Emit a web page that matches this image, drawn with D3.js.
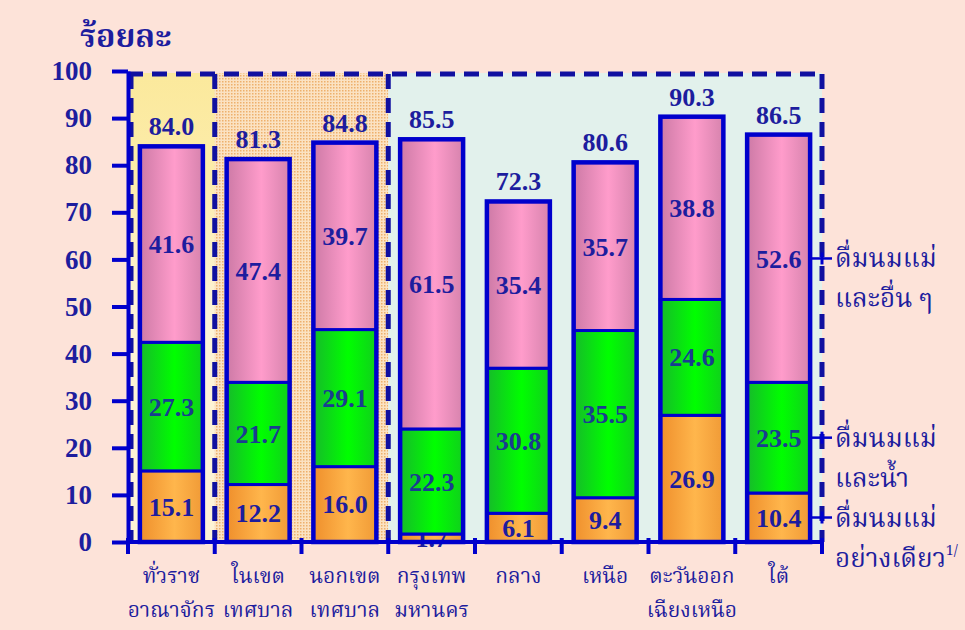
<!DOCTYPE html>
<html>
<head>
<meta charset="utf-8">
<script src="https://cdn.jsdelivr.net/npm/d3@7"></script>
<style>
  html, body { margin: 0; padding: 0; background: #fde3d9; }
  svg { display: block; }
  .num { font-family: "Liberation Serif", "Times New Roman", serif; font-weight: bold; fill: #1d1d9e; }
  .thai { font-family: "Noto Serif Thai", "Noto Sans Thai", "Norasi", "Loma", "Garuda", "Liberation Serif", serif; fill: #1d1d9e; }
</style>
</head>
<body>
<svg id="chart" width="965" height="630"></svg>
<script>
// breastfeeding by area, per cent
const categories = ['ทั่วราชอาณาจักร', 'ในเขตเทศบาล', 'นอกเขตเทศบาล', 'กรุงเทพมหานคร',
  'กลาง', 'เหนือ', 'ตะวันออกเฉียงเหนือ', 'ใต้'];
const catLabels = [['ทั่วราช', 'อาณาจักร'], ['ในเขต', 'เทศบาล'], ['นอกเขต', 'เทศบาล'],
  ['กรุงเทพ', 'มหานคร'], ['กลาง'], ['เหนือ'], ['ตะวันออก', 'เฉียงเหนือ'], ['ใต้']];
const exclusiveBF = [15.1, 12.2, 16.0, 1.7, 6.1, 9.4, 26.9, 10.4];
const waterBF = [27.3, 21.7, 29.1, 22.3, 30.8, 35.5, 24.6, 23.5];
const otherBF = [41.6, 47.4, 39.7, 61.5, 35.4, 35.7, 38.8, 52.6];
const totals = [84.0, 81.3, 84.8, 85.5, 72.3, 80.6, 90.3, 86.5];
const yTicks = [0, 10, 20, 30, 40, 50, 60, 70, 80, 90, 100];
const seriesKeys = ['exclusive', 'water', 'other'];
const seriesNames = [['ดื่มนมแม่', 'อย่างเดียว'], ['ดื่มนมแม่', 'และน้ำ'], ['ดื่มนมแม่', 'และอื่น ๆ']];

const svg = d3.select('#chart');
const blue = '#0000cc';
const dark = '#1010a0';

svg.append('rect').attr('width', 965).attr('height', 630).attr('fill', '#fde3d9');

const x = d3.scaleBand()
  .domain(categories)
  .range([128, 822])
  .paddingInner(0.274)
  .paddingOuter(0.137);
const y = d3.scaleLinear().domain([0, 100]).range([542, 71]);
const step = x.step();
const cellLeft = i => x.range()[0] + i * step;

const rows = categories.map((c, i) => ({
  cat: c, exclusive: exclusiveBF[i], water: waterBF[i], other: otherBF[i], total: totals[i]
}));
const stacked = d3.stack().keys(seriesKeys)(rows);

const defs = svg.append('defs');

// bar gradients (cylinder look)
const grads = {
  exclusive: ['#ef8f2c', '#ffb64c', '#f09a36'],
  water: ['#16bb2a', '#00ff00', '#10d01c'],
  other: ['#cd7aa6', '#ff9ccb', '#d683ad']
};
Object.entries(grads).forEach(([k, c]) => {
  const g = defs.append('linearGradient').attr('id', 'g-' + k);
  g.append('stop').attr('offset', '0%').attr('stop-color', c[0]);
  g.append('stop').attr('offset', '55%').attr('stop-color', c[1]);
  g.append('stop').attr('offset', '100%').attr('stop-color', c[2]);
});

const yg = defs.append('linearGradient').attr('id', 'g-yellow')
  .attr('x1', 0).attr('x2', 0).attr('y1', 0).attr('y2', 1);
yg.append('stop').attr('offset', '0%').attr('stop-color', '#fbe99c');
yg.append('stop').attr('offset', '22%').attr('stop-color', '#fcecaa');
yg.append('stop').attr('offset', '50%').attr('stop-color', '#fdf3d6');
yg.append('stop').attr('offset', '100%').attr('stop-color', '#fdf3d6');

const pat = defs.append('pattern').attr('id', 'dots')
  .attr('width', 3).attr('height', 3).attr('patternUnits', 'userSpaceOnUse');
pat.append('rect').attr('width', 3).attr('height', 3).attr('fill', '#fbe2c2');
pat.append('rect').attr('width', 1.5).attr('height', 1.5).attr('fill', '#eeb06c');

// background panels
const groups = [
  { from: 0, to: 1, fill: 'url(#g-yellow)' },
  { from: 1, to: 3, fill: 'url(#dots)' },
  { from: 3, to: 8, fill: '#e2f1ec' }
];
svg.append('g').selectAll('rect')
  .data(groups)
  .join('rect')
  .attr('x', d => cellLeft(d.from))
  .attr('y', y(100) + 2)
  .attr('width', d => (d.to - d.from) * step)
  .attr('height', y(0) - y(100) - 2)
  .attr('fill', d => d.fill);

// dashed borders
const dash = svg.append('g')
  .attr('fill', 'none')
  .attr('stroke', dark)
  .attr('stroke-width', 5)
  .attr('stroke-dasharray', '15,9');
dash.append('line')
  .attr('x1', 128).attr('x2', 824)
  .attr('y1', y(100) + 3).attr('y2', y(100) + 3);
dash.selectAll('line.v')
  .data([1, 3, 8])
  .join('line')
  .attr('class', 'v')
  .attr('x1', d => cellLeft(d))
  .attr('x2', d => cellLeft(d))
  .attr('y1', y(100) + 3)
  .attr('y2', y(0));
dash.append('line')
  .attr('x1', 131).attr('x2', 131)
  .attr('y1', y(100) + 3).attr('y2', y(0));

// bars
const barG = svg.append('g');
const series = barG.selectAll('g.s')
  .data(stacked)
  .join('g')
  .attr('class', 's')
  .attr('fill', d => `url(#g-${d.key})`);
series.selectAll('rect')
  .data(d => d)
  .join('rect')
  .attr('x', d => x(d.data.cat))
  .attr('y', d => y(d[1]))
  .attr('width', x.bandwidth())
  .attr('height', d => y(d[0]) - y(d[1]))
  .attr('stroke', blue)
  .attr('stroke-width', 3);

barG.selectAll('rect.outline')
  .data(rows)
  .join('rect')
  .attr('class', 'outline')
  .attr('x', d => x(d.cat))
  .attr('y', d => y(d.total))
  .attr('width', x.bandwidth())
  .attr('height', d => y(0) - y(d.total))
  .attr('fill', 'none')
  .attr('stroke', blue)
  .attr('stroke-width', 4.5);

// segment value labels
series.selectAll('text')
  .data(d => d.map(v => ({ v, key: d.key })))
  .join('text')
  .attr('class', 'num')
  .attr('x', d => x(d.v.data.cat) + x.bandwidth() / 2)
  .attr('y', d => y((d.v[0] + d.v[1]) / 2))
  .attr('dy', '0.35em')
  .attr('text-anchor', 'middle')
  .attr('font-size', 26)
  .style('fill', d => d.key === 'water' ? '#1a3c90' : '#1d1d9e')
  .text(d => d.v.data[d.key].toFixed(1));

// total labels
svg.append('g').selectAll('text')
  .data(rows)
  .join('text')
  .attr('class', 'num')
  .attr('x', d => x(d.cat) + x.bandwidth() / 2)
  .attr('y', d => y(d.total) - 11)
  .attr('text-anchor', 'middle')
  .attr('font-size', 26)
  .text(d => d.total.toFixed(1));

// y axis
const yAxis = svg.append('g')
  .attr('transform', 'translate(128,0)')
  .call(d3.axisLeft(y).tickValues(yTicks).tickSize(16).tickSizeOuter(0).tickPadding(20));
yAxis.select('.domain').attr('stroke', blue).attr('stroke-width', 4);
yAxis.selectAll('.tick line').attr('stroke', blue).attr('stroke-width', 4);
yAxis.selectAll('.tick text')
  .attr('class', 'num')
  .attr('font-size', 27)
  .attr('fill', null);

// x axis
const xAxisG = svg.append('g');
xAxisG.append('line')
  .attr('x1', 128).attr('x2', 824)
  .attr('y1', y(0)).attr('y2', y(0))
  .attr('stroke', blue).attr('stroke-width', 4);
xAxisG.selectAll('line.t')
  .data(d3.range(categories.length + 1))
  .join('line')
  .attr('class', 't')
  .attr('x1', d => cellLeft(d))
  .attr('x2', d => cellLeft(d))
  .attr('y1', y(0) - 4)
  .attr('y2', y(0) + 12)
  .attr('stroke', blue)
  .attr('stroke-width', 4);

// category labels
const catText = svg.append('g').selectAll('text')
  .data(categories)
  .join('text')
  .attr('class', 'thai')
  .attr('text-anchor', 'middle')
  .attr('font-size', 21);
catText.selectAll('tspan')
  .data((d, i) => catLabels[i].map(t => ({ t, x: x(d) + x.bandwidth() / 2 })))
  .join('tspan')
  .attr('x', d => d.x)
  .attr('y', (d, i) => 583 + i * 34)
  .text(d => d.t);

// title
svg.append('text')
  .attr('class', 'thai')
  .attr('x', 80)
  .attr('y', 47)
  .attr('font-size', 32)
  .attr('font-weight', 'bold')
  .text('ร้อยละ');

// legend on the right, tied to the last bar
const last = stacked.map(s => s[s.length - 1]);
const leg = svg.append('g');
last.forEach((v, i) => {
  const ly = y((v[0] + v[1]) / 2);
  leg.append('line')
    .attr('x1', 808).attr('x2', 832).attr('y1', ly).attr('y2', ly)
    .attr('stroke', blue).attr('stroke-width', 2.5);
  leg.append('line')
    .attr('x1', 822).attr('x2', 822).attr('y1', ly - 6).attr('y2', ly + 6)
    .attr('stroke', blue).attr('stroke-width', 3);
  const t = leg.append('text')
    .attr('class', 'thai')
    .attr('font-size', 26)
    .attr('x', 835)
    .attr('y', ly + 9);
  t.append('tspan').text(seriesNames[i][0]);
  t.append('tspan').attr('x', 835).attr('dy', 40).text(seriesNames[i][1]);
  if (i === 0) {
    t.append('tspan').attr('font-size', 14).attr('dy', -12).text('1/');
  }
});
</script>
</body>
</html>
